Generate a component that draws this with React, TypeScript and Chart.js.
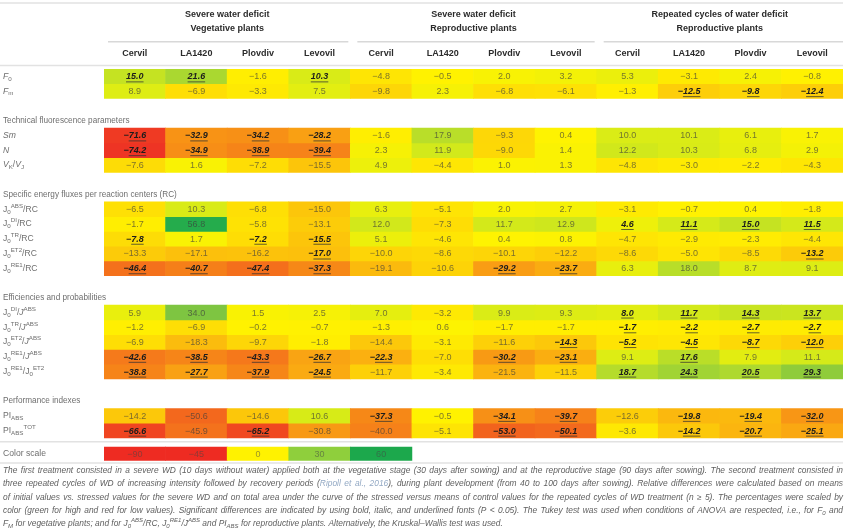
import { useEffect, useRef } from 'react';
import { Chart, registerables } from 'chart.js';

Chart.register(...registerables);

// ---------------- DATA ----------------
const groupTitles = [
  ['Severe water deficit', 'Vegetative plants'],
  ['Severe water deficit', 'Reproductive plants'],
  ['Repeated cycles of water deficit', 'Reproductive plants'],
];
const cultivars = ['Cervil', 'LA1420', 'Plovdiv', 'Levovil'];
const columns = [...cultivars, ...cultivars, ...cultivars];

const sectionTitles = [
  'Technical fluorescence parameters',
  'Specific energy fluxes per reaction centers (RC)',
  'Efficiencies and probabilities',
  'Performance indexes',
];

const rowLabels = [
  '{i:F}{_:0}',
  '{i:F}{_:m}',
  '{i:Sm}',
  '{i:N}',
  '{i:V}{_:K}/{i:V}{_:J}',
  'J{_:0}{^:ABS}/RC',
  'J{_:0}{^:DI}/RC',
  'J{_:0}{^:TR}/RC',
  'J{_:0}{^:ET2}/RC',
  'J{_:0}{^:RE1}/RC',
  'J{_:0}{^:DI}/{i:J}{^:ABS}',
  'J{_:0}{^:TR}/{i:J}{^:ABS}',
  'J{_:0}{^:ET2}/{i:J}{^:ABS}',
  'J{_:0}{^:RE1}/{i:J}{^:ABS}',
  'J{_:0}{^:RE1}/J{_:0}{^:ET2}',
  'PI{_:ABS}',
  'PI{_:ABS}{^:TOT}',
];

const F0 = [15.0, 21.6, -1.6, 10.3, -4.8, -0.5, 2.0, 3.2, 5.3, -3.1, 2.4, -0.8];
const Fm = [8.9, -6.9, -3.3, 7.5, -9.8, 2.3, -6.8, -6.1, -1.3, -12.5, -9.8, -12.4];
const Sm = [-71.6, -32.9, -34.2, -28.2, -1.6, 17.9, -9.3, 0.4, 10.0, 10.1, 6.1, 1.7];
const N = [-74.2, -34.9, -38.9, -39.4, 2.3, 11.9, -9.0, 1.4, 12.2, 10.3, 6.8, 2.9];
const VkVj = [-7.6, 1.6, -7.2, -15.5, 4.9, -4.4, 1.0, 1.3, -4.8, -3.0, -2.2, -4.3];
const ABS_RC = [-6.5, 10.3, -6.8, -15.0, 6.3, -5.1, 2.0, 2.7, -3.1, -0.7, 0.4, -1.8];
const DI_RC = [-1.7, 56.8, -5.8, -13.1, 12.0, -7.3, 11.7, 12.9, 4.6, 11.1, 15.0, 11.5];
const TR_RC = [-7.8, 1.7, -7.2, -15.5, 5.1, -4.6, 0.4, 0.8, -4.7, -2.9, -2.3, -4.4];
const ET2_RC = [-13.3, -17.1, -16.2, -17.0, -10.0, -8.6, -10.1, -12.2, -8.6, -5.0, -8.5, -13.2];
const RE1_RC = [-46.4, -40.7, -47.4, -37.3, -19.1, -10.6, -29.2, -23.7, 6.3, 18.0, 8.7, 9.1];
const DI_ABS = [5.9, 34.0, 1.5, 2.5, 7.0, -3.2, 9.9, 9.3, 8.0, 11.7, 14.3, 13.7];
const TR_ABS = [-1.2, -6.9, -0.2, -0.7, -1.3, 0.6, -1.7, -1.7, -1.7, -2.2, -2.7, -2.7];
const ET2_ABS = [-6.9, -18.3, -9.7, -1.8, -14.4, -3.1, -11.6, -14.3, -5.2, -4.5, -8.7, -12.0];
const RE1_ABS = [-42.6, -38.5, -43.3, -26.7, -22.3, -7.0, -30.2, -23.1, 9.1, 17.6, 7.9, 11.1];
const RE1_ET2 = [-38.8, -27.7, -37.9, -24.5, -11.7, -3.4, -21.5, -11.5, 18.7, 24.3, 20.5, 29.3];
const PI_ABS = [-14.2, -50.6, -14.6, 10.6, -37.3, -0.5, -34.1, -39.7, -12.6, -19.8, -19.4, -32.0];
const PI_TOT = [-66.6, -45.9, -65.2, -30.8, -40.0, -5.1, -53.0, -50.1, -3.6, -14.2, -20.7, -25.1];

const rowValues = [F0, Fm, Sm, N, VkVj, ABS_RC, DI_RC, TR_RC, ET2_RC, RE1_RC, DI_ABS, TR_ABS, ET2_ABS, RE1_ABS, RE1_ET2, PI_ABS, PI_TOT];

// significance (bold, italic, underlined)
const rowSignificant = [
  [1, 1, 0, 1, 0, 0, 0, 0, 0, 0, 0, 0],
  [0, 0, 0, 0, 0, 0, 0, 0, 0, 1, 1, 1],
  [1, 1, 1, 1, 0, 0, 0, 0, 0, 0, 0, 0],
  [1, 1, 1, 1, 0, 0, 0, 0, 0, 0, 0, 0],
  [0, 0, 0, 0, 0, 0, 0, 0, 0, 0, 0, 0],
  [0, 0, 0, 0, 0, 0, 0, 0, 0, 0, 0, 0],
  [0, 0, 0, 0, 0, 0, 0, 0, 1, 1, 1, 1],
  [1, 0, 1, 1, 0, 0, 0, 0, 0, 0, 0, 0],
  [0, 0, 0, 1, 0, 0, 0, 0, 0, 0, 0, 1],
  [1, 1, 1, 1, 0, 0, 1, 1, 0, 0, 0, 0],
  [0, 0, 0, 0, 0, 0, 0, 0, 1, 1, 1, 1],
  [0, 0, 0, 0, 0, 0, 0, 0, 1, 1, 1, 1],
  [0, 0, 0, 0, 0, 0, 0, 1, 1, 1, 1, 1],
  [1, 1, 1, 1, 1, 0, 1, 1, 0, 1, 0, 0],
  [1, 1, 1, 1, 0, 0, 0, 0, 1, 1, 1, 1],
  [0, 0, 0, 0, 1, 0, 1, 1, 0, 1, 1, 1],
  [1, 0, 1, 0, 0, 0, 1, 1, 0, 1, 1, 1],
];

// vertical slot of each row / section title (table layout units)
const rowSlots = [0, 1, 4, 5, 6, 9, 10, 11, 12, 13, 16, 17, 18, 19, 20, 23, 24];
const sectionSlots = [3, 8, 15, 22];

const colorScaleTicks = [-90, -45, 0, 30, 60];

const footnoteLines = [
  'The first treatment consisted in a severe WD (10 days without water) applied both at the vegetative stage (30 days after sowing) and at the reproductive stage (90 days after sowing). The second treatment consisted in',
  'three repeated cycles of WD of increasing intensity followed by recovery periods ({l:Ripoll et al., 2016}), during plant development (from 40 to 100 days after sowing). Relative differences were calculated based on means',
  'of initial values vs. stressed values for the severe WD and on total area under the curve of the stressed versus means of control values for the repeated cycles of WD treatment (n \u2265 5). The percentages were scaled by',
  'color (green for high and red for low values). Significant differences are indicated by using bold, italic, and underlined fonts (P < 0.05). The Tukey test was used when conditions of ANOVA are respected, i.e., for F{_:0} and',
  'F{_:M} for vegetative plants; and for J{_:0}{^:ABS}/RC, J{_:0}{^:RE1}/J{^:ABS} and PI{_:ABS} for reproductive plants. Alternatively, the Kruskal\u2013Wallis test was used.',
];

// ---------------- STYLE ----------------
const FAMILY = '"Liberation Sans", Arial, Helvetica, sans-serif';
const CS_TOP = 25.62;
const CS_BOTTOM = 26.52;
const Y_MAX = 26.6;
const colorScaleColors = ['#ee2b22', '#ee2b22', '#fff200', '#8fcf3c', '#1ca84c'];

const STOPS: [number, number[]][] = [
  [-75, [238, 50, 36]],
  [-60, [241, 84, 30]],
  [-45, [244, 116, 28]],
  [-35, [247, 142, 22]],
  [-25, [250, 168, 18]],
  [-15, [252, 198, 10]],
  [-5, [254, 228, 4]],
  [0, [255, 243, 0]],
  [10, [218, 236, 22]],
  [20, [176, 218, 46]],
  [35, [122, 196, 66]],
  [57, [36, 172, 76]],
];

function cellColor(v: number): string {
  if (v <= STOPS[0][0]) return `rgb(${STOPS[0][1].join(',')})`;
  for (let i = 1; i < STOPS.length; i++) {
    if (v <= STOPS[i][0]) {
      const [a, ca] = STOPS[i - 1];
      const [b, cb] = STOPS[i];
      const t = (v - a) / (b - a);
      const c = ca.map((x, k) => Math.round(x + (cb[k] - x) * t));
      return `rgb(${c.join(',')})`;
    }
  }
  return `rgb(${STOPS[STOPS.length - 1][1].join(',')})`;
}

type Seg = { t: string; k: string };
function parseRich(s: string): Seg[] {
  const out: Seg[] = [];
  const re = /\{([i_^l]):([^}]*)\}/g;
  let last = 0;
  let m: RegExpExecArray | null;
  while ((m = re.exec(s))) {
    if (m.index > last) out.push({ t: s.slice(last, m.index), k: '' });
    out.push({ t: m[2], k: m[1] });
    last = re.lastIndex;
  }
  if (last < s.length) out.push({ t: s.slice(last), k: '' });
  return out;
}

function drawRich(
  ctx: CanvasRenderingContext2D,
  s: string,
  x: number,
  y: number,
  size: number,
  baseItalic: boolean,
  color: string,
  justifyWidth = 0,
) {
  const segs = parseRich(s);
  const fontFor = (k: string) => {
    const small = k === '_' || k === '^';
    const sz = small ? size * 0.72 : size;
    const it = baseItalic || k === 'i';
    return `${it ? 'italic ' : ''}${sz}px ${FAMILY}`;
  };
  let natural = 0;
  let spaces = 0;
  for (const sg of segs) {
    ctx.font = fontFor(sg.k);
    natural += ctx.measureText(sg.t).width;
    spaces += (sg.t.match(/ /g) || []).length;
  }
  const extra = justifyWidth && spaces ? (justifyWidth - natural) / spaces : 0;
  let cx = x;
  ctx.textAlign = 'left';
  ctx.textBaseline = 'middle';
  for (const sg of segs) {
    ctx.font = fontFor(sg.k);
    ctx.fillStyle = sg.k === 'l' ? '#93a9c4' : color;
    const dy = sg.k === '_' ? size * 0.3 : sg.k === '^' ? -size * 0.38 : 0;
    const parts = sg.t.split(' ');
    const spW = ctx.measureText(' ').width;
    parts.forEach((p, i) => {
      ctx.fillText(p, cx, y + dy);
      cx += ctx.measureText(p).width;
      if (i < parts.length - 1) cx += spW + extra;
    });
  }
}

const tablePlugin = {
  id: 'tableText',
  afterDraw(chart: any) {
    const ctx: CanvasRenderingContext2D = chart.ctx;
    const xs = chart.scales.x;
    const ys = chart.scales.y;
    const ca = chart.chartArea;
    const colX = (j: number) => xs.getPixelForValue(j);
    const half = (colX(1) - colX(0)) / 2;
    const slotY = (s: number) => ys.getPixelForValue(s);
    ctx.save();

    const hline = (y: number, x0: number, x1: number, w = 1.5, c = '#e2e2e2') => {
      ctx.strokeStyle = c;
      ctx.lineWidth = w;
      ctx.beginPath();
      ctx.moveTo(x0, y);
      ctx.lineTo(x1, y);
      ctx.stroke();
    };

    // rules
    hline(3, 0, ca.right);
    hline(65.5, 0, ca.right);
    hline(slotY(25.25), 0, ca.right);
    hline(slotY(CS_BOTTOM) + 2.5, 0, ca.right);

    // group headers
    ctx.fillStyle = '#2b2b2b';
    ctx.textAlign = 'center';
    ctx.textBaseline = 'middle';
    ctx.font = `bold 9px ${FAMILY}`;
    groupTitles.forEach((lines, g) => {
      const left = colX(4 * g) - half;
      const right = colX(4 * g + 3) + half;
      const cx = (left + right) / 2;
      ctx.fillStyle = '#2b2b2b';
      ctx.fillText(lines[0], cx, 14.7);
      ctx.fillText(lines[1], cx, 29);
      hline(41.7, left + (g === 0 ? 4 : 7), right - (g === 2 ? 0 : 2), 1.5, '#d8d8d8');
    });
    ctx.fillStyle = '#2b2b2b';
    ctx.font = `bold 9px ${FAMILY}`;
    ctx.textAlign = 'center';
    columns.forEach((c, j) => ctx.fillText(c, colX(j), 54));

    // section titles
    sectionTitles.forEach((t, i) => {
      drawRich(ctx, t, 3, slotY(sectionSlots[i] + 0.5), 8.2, false, '#6e6e6e');
    });

    // row labels and values
    rowValues.forEach((vals, r) => {
      const cy = slotY(rowSlots[r] + 0.5);
      drawRich(ctx, rowLabels[r], 3, cy, 8.6, false, '#6e6e6e');
      vals.forEach((v, j) => {
        const sig = rowSignificant[r][j] === 1;
        const txt = v.toFixed(1).replace('-', '\u2212');
        const x = colX(j);
        ctx.textAlign = 'center';
        ctx.textBaseline = 'middle';
        ctx.font = sig ? `italic bold 9px ${FAMILY}` : `9px ${FAMILY}`;
        ctx.fillStyle = sig ? '#1c1c1c' : 'rgba(60,60,60,0.68)';
        ctx.fillText(txt, x, cy + 0.5);
        if (sig) {
          const w = ctx.measureText(txt).width;
          const mw = v < 0 ? ctx.measureText('\u2212').width : 0;
          ctx.strokeStyle = 'rgba(50,50,50,0.75)';
          ctx.lineWidth = 1;
          ctx.beginPath();
          ctx.moveTo(x - w / 2 + mw, cy + 5.5);
          ctx.lineTo(x + w / 2, cy + 5.5);
          ctx.stroke();
        }
      });
    });

    // color scale
    const csY = slotY((CS_TOP + CS_BOTTOM) / 2);
    drawRich(ctx, 'Color scale', 3, csY, 8.6, false, '#6e6e6e');
    colorScaleTicks.forEach((v, j) => {
      ctx.textAlign = 'center';
      ctx.textBaseline = 'middle';
      ctx.font = `9px ${FAMILY}`;
      ctx.fillStyle = 'rgba(70,70,70,0.55)';
      ctx.fillText(String(v).replace('-', '\u2212'), colX(j), csY + 0.5);
    });

    // footnote
    const fy = [470.7, 484, 497.3, 510.6, 523.9];
    footnoteLines.forEach((line, i) => {
      drawRich(ctx, line, 3, fy[i], 8.4, true, '#5e5e5e', i < footnoteLines.length - 1 ? ca.right - 3 : 0);
    });

    ctx.restore();
  },
};

export default function App() {
  const ref = useRef<HTMLCanvasElement>(null);
  useEffect(() => {
    const datasets: any[] = rowValues.map((vals, r) => ({
      label: `row${r}`,
      data: vals.map(() => [rowSlots[r], rowSlots[r] + 1]),
      backgroundColor: vals.map(cellColor),
    }));
    datasets.push({
      label: 'Color scale',
      data: columns.map((_, j) => (j < colorScaleTicks.length ? [CS_TOP, CS_BOTTOM] : null)),
      backgroundColor: columns.map((_, j) => colorScaleColors[j] || 'transparent'),
    });
    const chart = new Chart(ref.current as HTMLCanvasElement, {
      type: 'bar',
      data: { labels: columns, datasets },
      options: {
        animation: false,
        responsive: false,
        devicePixelRatio: 1,
        layout: { padding: { left: 104, right: 7, top: 69, bottom: 529 - 69 - 14.76 * Y_MAX } },
        datasets: {
          bar: { barPercentage: 1, categoryPercentage: 1, grouped: false, borderWidth: 0 } as any,
        },
        scales: {
          x: { type: 'category', display: false, offset: true },
          y: { type: 'linear', display: false, min: 0, max: Y_MAX, reverse: true },
        },
        plugins: { legend: { display: false }, tooltip: { enabled: false } },
      },
      plugins: [tablePlugin],
    });
    return () => chart.destroy();
  }, []);
  return (
    <div style={{ position: 'fixed', left: 0, top: 0, width: 850, height: 529, background: '#fff' }}>
      <canvas ref={ref} width={850} height={529} style={{ display: 'block', width: 850, height: 529 }} />
    </div>
  );
}
